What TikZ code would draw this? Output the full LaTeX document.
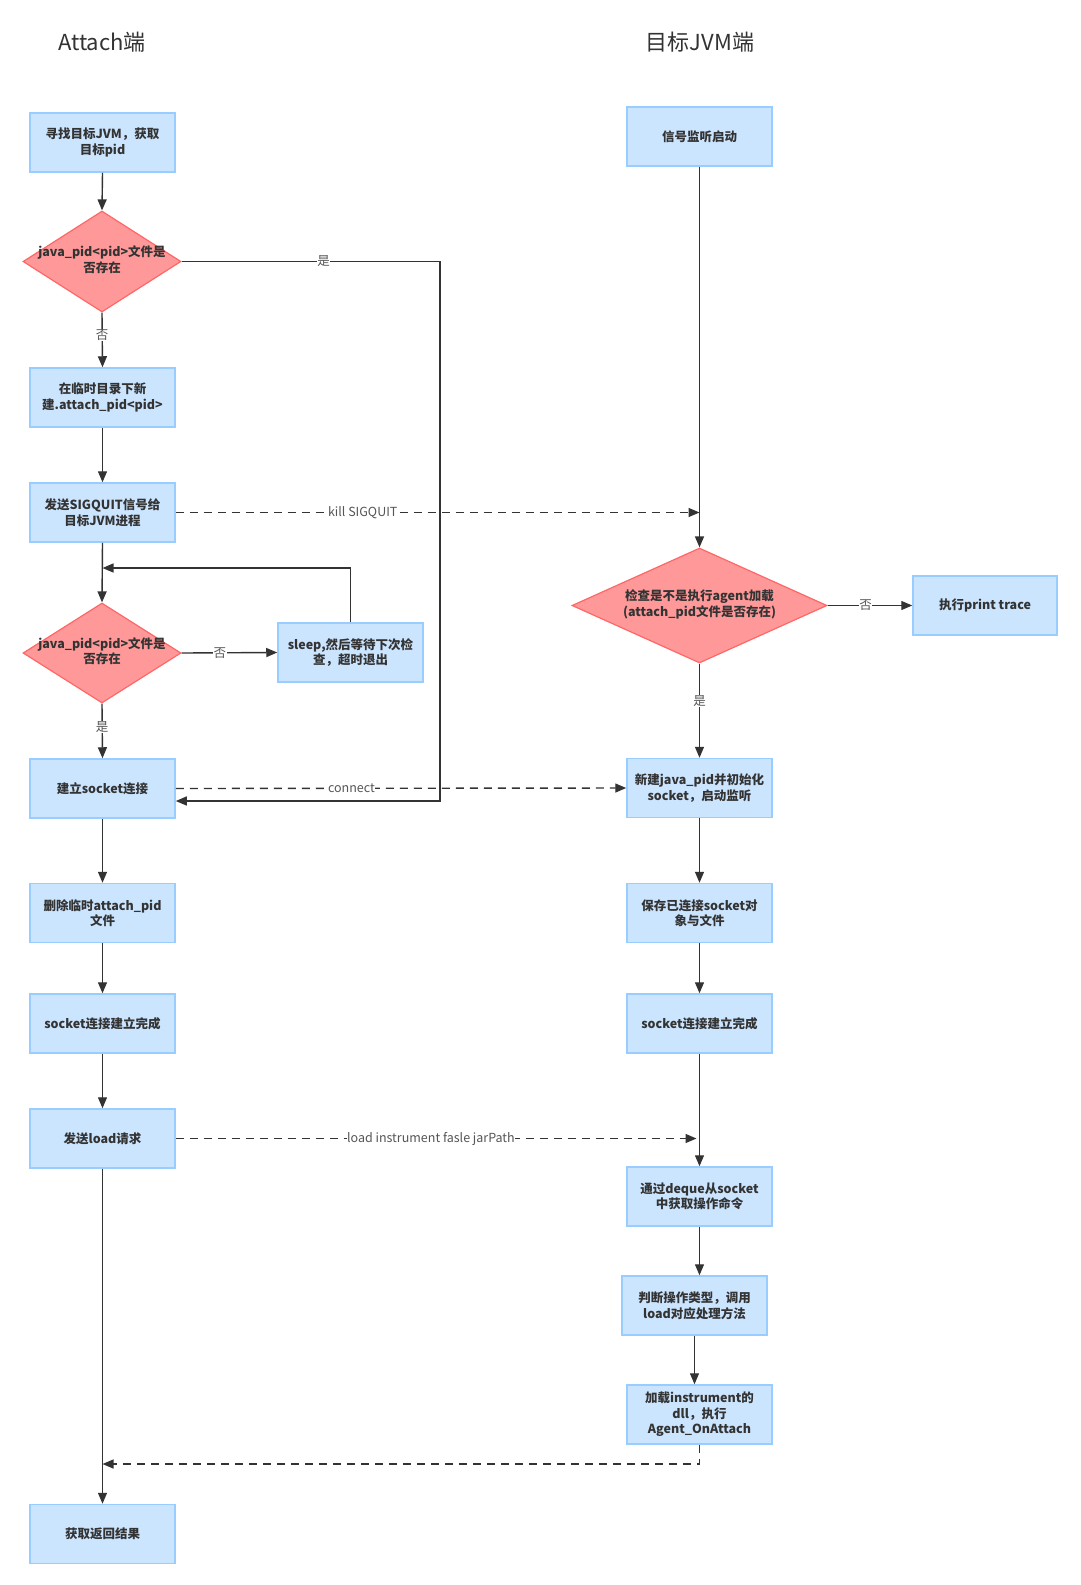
\documentclass[tikz,border=0pt]{standalone}
\usepackage{fontspec}
\setmainfont{Noto Sans CJK SC}
\usetikzlibrary{arrows.meta,shapes.geometric,calc}
\definecolor{boxfill}{HTML}{CCE5FF}
\definecolor{boxdraw}{HTML}{99CCFF}
\definecolor{dfill}{HTML}{FF9999}
\definecolor{ddraw}{HTML}{FF6666}
\definecolor{ln}{HTML}{333333}
\definecolor{txt}{HTML}{333333}
\definecolor{lbltxt}{HTML}{555555}
\newcommand{\dtext}[1]{\makebox[0pt]{\begin{tabular}{@{}c@{}}#1\end{tabular}}}
\begin{document}
\begin{tikzpicture}[x=1pt,y=-1pt,
 procbox/.style={rectangle,fill=boxfill,draw=boxdraw,line width=1.5pt,minimum width=145pt,minimum height=59pt,inner sep=0pt,align=center,font=\fontsize{12.5}{15.5}\selectfont\bfseries,text=txt},
 decide/.style={diamond,fill=dfill,draw=ddraw,line width=1.2pt,inner sep=0pt,font=\fontsize{12.5}{15.5}\selectfont\bfseries,text=txt},
 flow/.style={draw=ln,line width=1.4pt,-{Triangle[length=11pt,width=9pt]}},
 dflow/.style={flow,dash pattern=on 8pt off 6pt},
 lbl/.style={fill=white,inner sep=0.5pt,font=\fontsize{12.5}{14}\selectfont,text=lbltxt},
 ttl/.style={font=\fontsize{22}{26}\selectfont,text=txt}
]
\useasboundingbox[fill=white] (0,0) rectangle (1080,1585);

% titles
\node[ttl] (t1) at (102,42) {Attach端};
\node[ttl] (t2) at (700,42) {目标JVM端};

% left column
\node[procbox] (b1) at (102.5,142.5) {寻找目标JVM，获取\\目标pid};
\node[decide,minimum width=158pt,minimum height=101pt] (d1) at (102,261.5) {\dtext{java\_pid<pid>文件是\\否存在}};
\node[procbox] (b2) at (102.5,397.5) {在临时目录下新\\建.attach\_pid<pid>};
\node[procbox] (b3) at (102.5,512.5) {发送SIGQUIT信号给\\目标JVM进程};
\node[decide,minimum width=158pt,minimum height=100pt] (d2) at (102,653) {\dtext{java\_pid<pid>文件是\\否存在}};
\node[procbox] (sleep) at (350.5,652.5) {sleep,然后等待下次检\\查，超时退出};
\node[procbox] (sock) at (102.5,788.5) {建立socket连接};
\node[procbox] (del) at (102.5,913) {删除临时attach\_pid\\文件};
\node[procbox] (sc1) at (102.5,1023.5) {socket连接建立完成};
\node[procbox] (load) at (102.5,1138.5) {发送load请求};
\node[procbox] (res) at (102.5,1534) {获取返回结果};

% right column
\node[procbox] (sig) at (699.5,136.5) {信号监听启动};
\node[decide,minimum width=255pt,minimum height=115pt] (d3) at (699.5,605.5) {\dtext{检查是不是执行agent加载\\(attach\_pid文件是否存在)}};
\node[procbox,minimum width=144pt] (pt) at (985,605.5) {执行print trace};
\node[procbox] (jv) at (699.5,788) {新建java\_pid并初始化\\socket，启动监听};
\node[procbox] (save) at (699.5,913) {保存已连接socket对\\象与文件};
\node[procbox] (sc2) at (699.5,1023.5) {socket连接建立完成};
\node[procbox] (deque) at (699.5,1196.5) {通过deque从socket\\中获取操作命令};
\node[procbox] (judge) at (694.5,1305.5) {判断操作类型，调用\\load对应处理方法};
\node[procbox] (agent) at (699.5,1414.5) {加载instrument的\\dll，执行\\Agent\_OnAttach};

% helper coordinates
\coordinate (rj) at (440,261.5);
\coordinate (loopc) at (102.5,568);
\coordinate (bk) at (102.5,1464);

% left connectors
\draw[flow] (b1.south) -- (d1.north);
\draw[flow] (d1.south) -- node[lbl,pos=0.42]{否} (b2.north);
\draw[flow] (b2.south) -- (b3.north);
\draw[flow] (b3.south) -- (d2.north);
\draw[flow] (d2.east) -- node[lbl,pos=0.4]{否} (sleep.west);
\draw[flow] (sleep.north) |- (loopc);
\draw[flow] (d2.south) -- node[lbl,pos=0.42]{是} (sock.north);
\draw[flow] (d1.east) -- node[lbl,pos=0.55]{是} (rj) |- ([yshift=-12.5pt]sock.east);
\draw[flow] (sock.south) -- (del.north);
\draw[flow] (del.south) -- (sc1.north);
\draw[flow] (sc1.south) -- (load.north);
\draw[flow] (load.south) -- (res.north);

% cross connectors
\draw[dflow] (b3.east) -- node[lbl,pos=0.357]{kill SIGQUIT} (sig.south |- b3.east);
\draw[dflow] (sock.east) -- node[lbl,pos=0.39]{connect} (jv.west);
\draw[dflow] (load.east) -- node[lbl,pos=0.49]{load instrument fasle jarPath} ([xshift=-3pt]sc2.south |- load.east);
\draw[dflow] (agent.south) |- (bk);

% right connectors
\draw[flow] (sig.south) -- (d3.north);
\draw[flow] (d3.east) -- node[lbl,pos=0.45]{否} (pt.west);
\draw[flow] (d3.south) -- node[lbl,pos=0.4]{是} (jv.north);
\draw[flow] (jv.south) -- (save.north);
\draw[flow] (save.south) -- (sc2.north);
\draw[flow] (sc2.south) -- (deque.north);
\draw[flow] (deque.south) -- (deque.south |- judge.north);
\draw[flow] (judge.south) -- (judge.south |- agent.north);
\end{tikzpicture}
\end{document}
